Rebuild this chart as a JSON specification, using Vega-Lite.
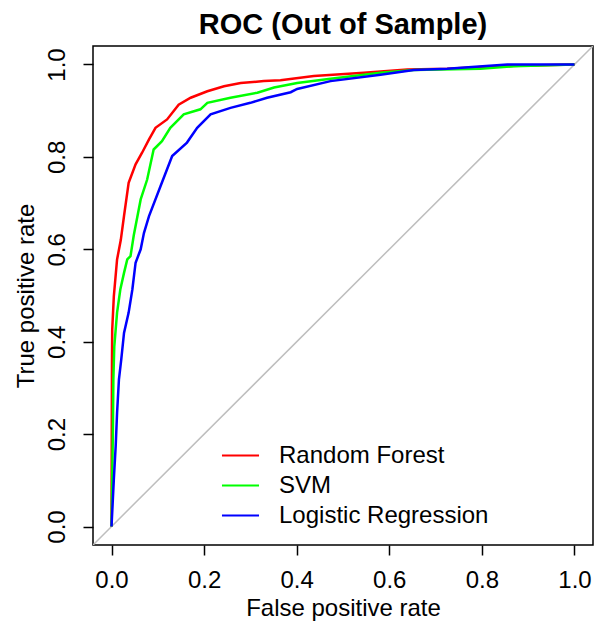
{
  "$schema": "https://vega.github.io/schema/vega-lite/v6.json",
  "width": 500,
  "height": 499,
  "autosize": {"type": "none"},
  "padding": {"left": 93, "top": 46, "right": 2, "bottom": 80},
  "background": "white",
  "title": {"text": "ROC (Out of Sample)", "fontSize": 29, "fontWeight": "bold", "font": "Liberation Sans", "anchor": "middle", "frame": "group", "baseline": "alphabetic", "offset": -17, "color": "black"},
  "config": {
    "view": {"stroke": "black", "strokeWidth": 1.5},
    "font": "Liberation Sans",
    "axis": {"domain": false, "grid": false, "tickSize": 10, "tickWidth": 1.5, "tickColor": "black", "labelFontSize": 24, "labelColor": "black", "labelFont": "Liberation Sans", "titleFont": "Liberation Sans", "titleFontSize": 24, "titleFontWeight": "normal", "titleColor": "black", "labelFlush": false, "labelOverlap": false, "labelBound": false}
  },
  "encoding": {
    "x": {"field": "fpr", "type": "quantitative", "scale": {"domain": [-0.04, 1.04], "nice": false, "zero": false},
      "axis": {"values": [0, 0.2, 0.4, 0.6, 0.8, 1], "format": ".1f", "title": "False positive rate", "labelBaseline": "alphabetic", "labelPadding": 32, "titleBaseline": "alphabetic", "titleY": 70}},
    "y": {"field": "tpr", "type": "quantitative", "scale": {"domain": [-0.04, 1.04], "nice": false, "zero": false},
      "axis": {"values": [0, 0.2, 0.4, 0.6, 0.8, 1], "format": ".1f", "title": "True positive rate", "labelAngle": 270, "labelAlign": "center", "labelBaseline": "alphabetic", "labelPadding": 19, "titleAngle": 270, "titleAlign": "center", "titleBaseline": "alphabetic", "titleX": -60, "titleY": 249.5}}
  },
  "layer": [
    {
      "data": {"values": [{"fpr": -0.04, "tpr": -0.04}, {"fpr": 1.04, "tpr": 1.04}]},
      "mark": {"type": "line", "color": "#BEBEBE", "strokeWidth": 1.5, "clip": true}
    },
    {
      "data": {"values": [
        {"model": "Random Forest", "fpr": 0, "tpr": 0},
        {"model": "Random Forest", "fpr": 0.0005, "tpr": 0.2},
        {"model": "Random Forest", "fpr": 0.001, "tpr": 0.355},
        {"model": "Random Forest", "fpr": 0.0015, "tpr": 0.426},
        {"model": "Random Forest", "fpr": 0.005, "tpr": 0.498},
        {"model": "Random Forest", "fpr": 0.012, "tpr": 0.578},
        {"model": "Random Forest", "fpr": 0.02, "tpr": 0.62},
        {"model": "Random Forest", "fpr": 0.027, "tpr": 0.672},
        {"model": "Random Forest", "fpr": 0.037, "tpr": 0.744},
        {"model": "Random Forest", "fpr": 0.052, "tpr": 0.784},
        {"model": "Random Forest", "fpr": 0.066, "tpr": 0.809},
        {"model": "Random Forest", "fpr": 0.081, "tpr": 0.838},
        {"model": "Random Forest", "fpr": 0.095, "tpr": 0.863},
        {"model": "Random Forest", "fpr": 0.12, "tpr": 0.881},
        {"model": "Random Forest", "fpr": 0.145, "tpr": 0.913},
        {"model": "Random Forest", "fpr": 0.171, "tpr": 0.928},
        {"model": "Random Forest", "fpr": 0.207, "tpr": 0.942},
        {"model": "Random Forest", "fpr": 0.243, "tpr": 0.953},
        {"model": "Random Forest", "fpr": 0.279, "tpr": 0.96},
        {"model": "Random Forest", "fpr": 0.329, "tpr": 0.964},
        {"model": "Random Forest", "fpr": 0.365, "tpr": 0.966},
        {"model": "Random Forest", "fpr": 0.437, "tpr": 0.975},
        {"model": "Random Forest", "fpr": 0.545, "tpr": 0.982},
        {"model": "Random Forest", "fpr": 0.639, "tpr": 0.989},
        {"model": "Random Forest", "fpr": 0.725, "tpr": 0.991},
        {"model": "Random Forest", "fpr": 0.833, "tpr": 0.996},
        {"model": "Random Forest", "fpr": 1, "tpr": 1},
        {"model": "SVM", "fpr": 0, "tpr": 0},
        {"model": "SVM", "fpr": 0.0015, "tpr": 0.102},
        {"model": "SVM", "fpr": 0.003, "tpr": 0.21},
        {"model": "SVM", "fpr": 0.004, "tpr": 0.318},
        {"model": "SVM", "fpr": 0.006, "tpr": 0.39},
        {"model": "SVM", "fpr": 0.012, "tpr": 0.463},
        {"model": "SVM", "fpr": 0.019, "tpr": 0.513},
        {"model": "SVM", "fpr": 0.027, "tpr": 0.549},
        {"model": "SVM", "fpr": 0.034, "tpr": 0.578},
        {"model": "SVM", "fpr": 0.041, "tpr": 0.585},
        {"model": "SVM", "fpr": 0.048, "tpr": 0.63},
        {"model": "SVM", "fpr": 0.063, "tpr": 0.708},
        {"model": "SVM", "fpr": 0.077, "tpr": 0.751},
        {"model": "SVM", "fpr": 0.091, "tpr": 0.816},
        {"model": "SVM", "fpr": 0.109, "tpr": 0.834},
        {"model": "SVM", "fpr": 0.127, "tpr": 0.863},
        {"model": "SVM", "fpr": 0.156, "tpr": 0.892},
        {"model": "SVM", "fpr": 0.192, "tpr": 0.903},
        {"model": "SVM", "fpr": 0.207, "tpr": 0.917},
        {"model": "SVM", "fpr": 0.257, "tpr": 0.928},
        {"model": "SVM", "fpr": 0.315, "tpr": 0.939},
        {"model": "SVM", "fpr": 0.351, "tpr": 0.95},
        {"model": "SVM", "fpr": 0.401, "tpr": 0.96},
        {"model": "SVM", "fpr": 0.473, "tpr": 0.969},
        {"model": "SVM", "fpr": 0.581, "tpr": 0.982},
        {"model": "SVM", "fpr": 0.653, "tpr": 0.988},
        {"model": "SVM", "fpr": 0.797, "tpr": 0.991},
        {"model": "SVM", "fpr": 0.869, "tpr": 0.996},
        {"model": "SVM", "fpr": 1, "tpr": 1},
        {"model": "Logistic Regression", "fpr": 0, "tpr": 0},
        {"model": "Logistic Regression", "fpr": 0.005, "tpr": 0.102},
        {"model": "Logistic Regression", "fpr": 0.009, "tpr": 0.174},
        {"model": "Logistic Regression", "fpr": 0.012, "tpr": 0.246},
        {"model": "Logistic Regression", "fpr": 0.016, "tpr": 0.318},
        {"model": "Logistic Regression", "fpr": 0.021, "tpr": 0.361},
        {"model": "Logistic Regression", "fpr": 0.027, "tpr": 0.419},
        {"model": "Logistic Regression", "fpr": 0.037, "tpr": 0.463},
        {"model": "Logistic Regression", "fpr": 0.045, "tpr": 0.513},
        {"model": "Logistic Regression", "fpr": 0.052, "tpr": 0.571},
        {"model": "Logistic Regression", "fpr": 0.063, "tpr": 0.6},
        {"model": "Logistic Regression", "fpr": 0.07, "tpr": 0.635},
        {"model": "Logistic Regression", "fpr": 0.081, "tpr": 0.672},
        {"model": "Logistic Regression", "fpr": 0.106, "tpr": 0.737},
        {"model": "Logistic Regression", "fpr": 0.131, "tpr": 0.802},
        {"model": "Logistic Regression", "fpr": 0.163, "tpr": 0.831},
        {"model": "Logistic Regression", "fpr": 0.185, "tpr": 0.863},
        {"model": "Logistic Regression", "fpr": 0.214, "tpr": 0.892},
        {"model": "Logistic Regression", "fpr": 0.257, "tpr": 0.906},
        {"model": "Logistic Regression", "fpr": 0.3, "tpr": 0.917},
        {"model": "Logistic Regression", "fpr": 0.336, "tpr": 0.928},
        {"model": "Logistic Regression", "fpr": 0.387, "tpr": 0.94},
        {"model": "Logistic Regression", "fpr": 0.401, "tpr": 0.947},
        {"model": "Logistic Regression", "fpr": 0.473, "tpr": 0.964},
        {"model": "Logistic Regression", "fpr": 0.581, "tpr": 0.978},
        {"model": "Logistic Regression", "fpr": 0.653, "tpr": 0.988},
        {"model": "Logistic Regression", "fpr": 0.725, "tpr": 0.991},
        {"model": "Logistic Regression", "fpr": 0.855, "tpr": 1.0},
        {"model": "Logistic Regression", "fpr": 1, "tpr": 1}
      ]},
      "mark": {"type": "line", "strokeWidth": 2.5, "clip": true},
      "encoding": {
        "color": {"field": "model", "type": "nominal",
          "scale": {"domain": ["Random Forest", "SVM", "Logistic Regression"], "range": ["#FF0000", "#00FF00", "#0000FF"]},
          "legend": {"orient": "none", "legendX": 134, "legendY": 396, "title": null, "symbolType": "M-1.5,0L1.5,0", "symbolSize": 610, "symbolStrokeWidth": 2, "labelFontSize": 24, "labelFont": "Liberation Sans", "labelColor": "black", "labelOffset": 25, "labelLimit": 0, "rowPadding": 4, "padding": 0, "symbolOpacity": 1}}
      }
    }
  ]
}
